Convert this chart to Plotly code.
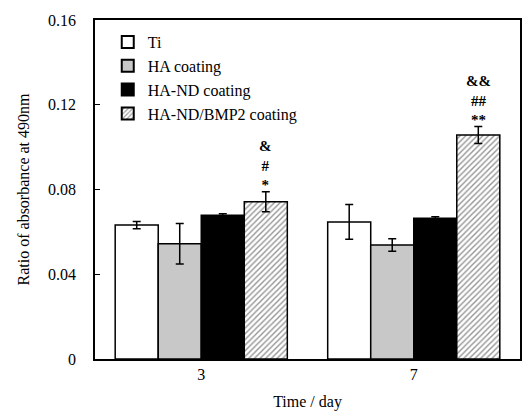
import plotly.graph_objects as go

days = ["3", "7"]
series_names = ["Ti", "HA coating", "HA-ND coating", "HA-ND/BMP2 coating"]
ti = [0.0632, 0.0647]
ti_err = [0.0017, 0.0082]
ha = [0.0544, 0.0538]
ha_err = [0.0096, 0.0029]
hand = [0.0678, 0.0664]
hand_err = [0.0008, 0.0007]
bmp = [0.0742, 0.1057]
bmp_err = [0.0047, 0.0040]
sig_labels = ["<b>&</b><br><b>#</b><br><b>*</b>", "<b>&&</b><br><b>##</b><br><b>**</b>"]
y_tickvals = [0, 0.04, 0.08, 0.12, 0.16]
y_ticktext = ["0", "0.04", "0.08", "0.12", "0.16"]

FONT = "Liberation Serif"
FS = 16
bargap = 0.19

fig = go.Figure()
styles = [
    dict(color="white"),
    dict(color="#c8c8c8"),
    dict(color="black"),
    dict(color="white", pattern=dict(shape="/", fgcolor="#2a2a2a", bgcolor="white", size=4, solidity=0.35)),
]
vals = [ti, ha, hand, bmp]
errs = [ti_err, ha_err, hand_err, bmp_err]
for name, v, e, st in zip(series_names, vals, errs, styles):
    fig.add_trace(go.Bar(
        x=days, y=v, name=name,
        marker=dict(line=dict(color="black", width=1.5), **st),
        error_y=dict(type="data", array=e, visible=True, color="black", thickness=1.5, width=4),
    ))

n = len(series_names)
offset = (n - 1) / 2 * (1 - bargap) / n
for i, lab in enumerate(sig_labels):
    fig.add_annotation(
        x=i + offset, y=bmp[i] + bmp_err[i], xref="x", yref="y",
        text=lab, showarrow=False, yanchor="bottom",
        font=dict(family=FONT, size=15, color="black"),
        yshift=-3,
    )

fig.update_layout(
    width=524, height=412,
    margin=dict(l=95, r=2, t=20, b=53),
    barmode="group", bargap=bargap, bargroupgap=0,
    plot_bgcolor="white", paper_bgcolor="white",
    font=dict(family=FONT, size=FS, color="black"),
    showlegend=True,
    legend=dict(x=0.03, y=0.985, xanchor="left", yanchor="top",
                bgcolor="rgba(0,0,0,0)", font=dict(family=FONT, size=FS),
                tracegroupgap=0, itemsizing="constant"),
)
fig.update_yaxes(
    range=[0, 0.16], tickvals=y_tickvals, ticktext=y_ticktext,
    ticks="inside", ticklen=5, tickcolor="black", ticklabelstandoff=14,
    showline=True, linecolor="black", linewidth=1.5, mirror=True,
    showgrid=False, zeroline=False,
    title=dict(text="Ratio of absorbance at 490nm", font=dict(family=FONT, size=FS), standoff=14),
    tickfont=dict(family=FONT, size=FS),
)
fig.update_xaxes(
    showline=True, linecolor="black", linewidth=1.5, mirror=True,
    ticks="", showgrid=False,
    title=dict(text="Time / day", font=dict(family=FONT, size=FS), standoff=14),
    tickfont=dict(family=FONT, size=FS),
)
fig.write_html("out.html")
